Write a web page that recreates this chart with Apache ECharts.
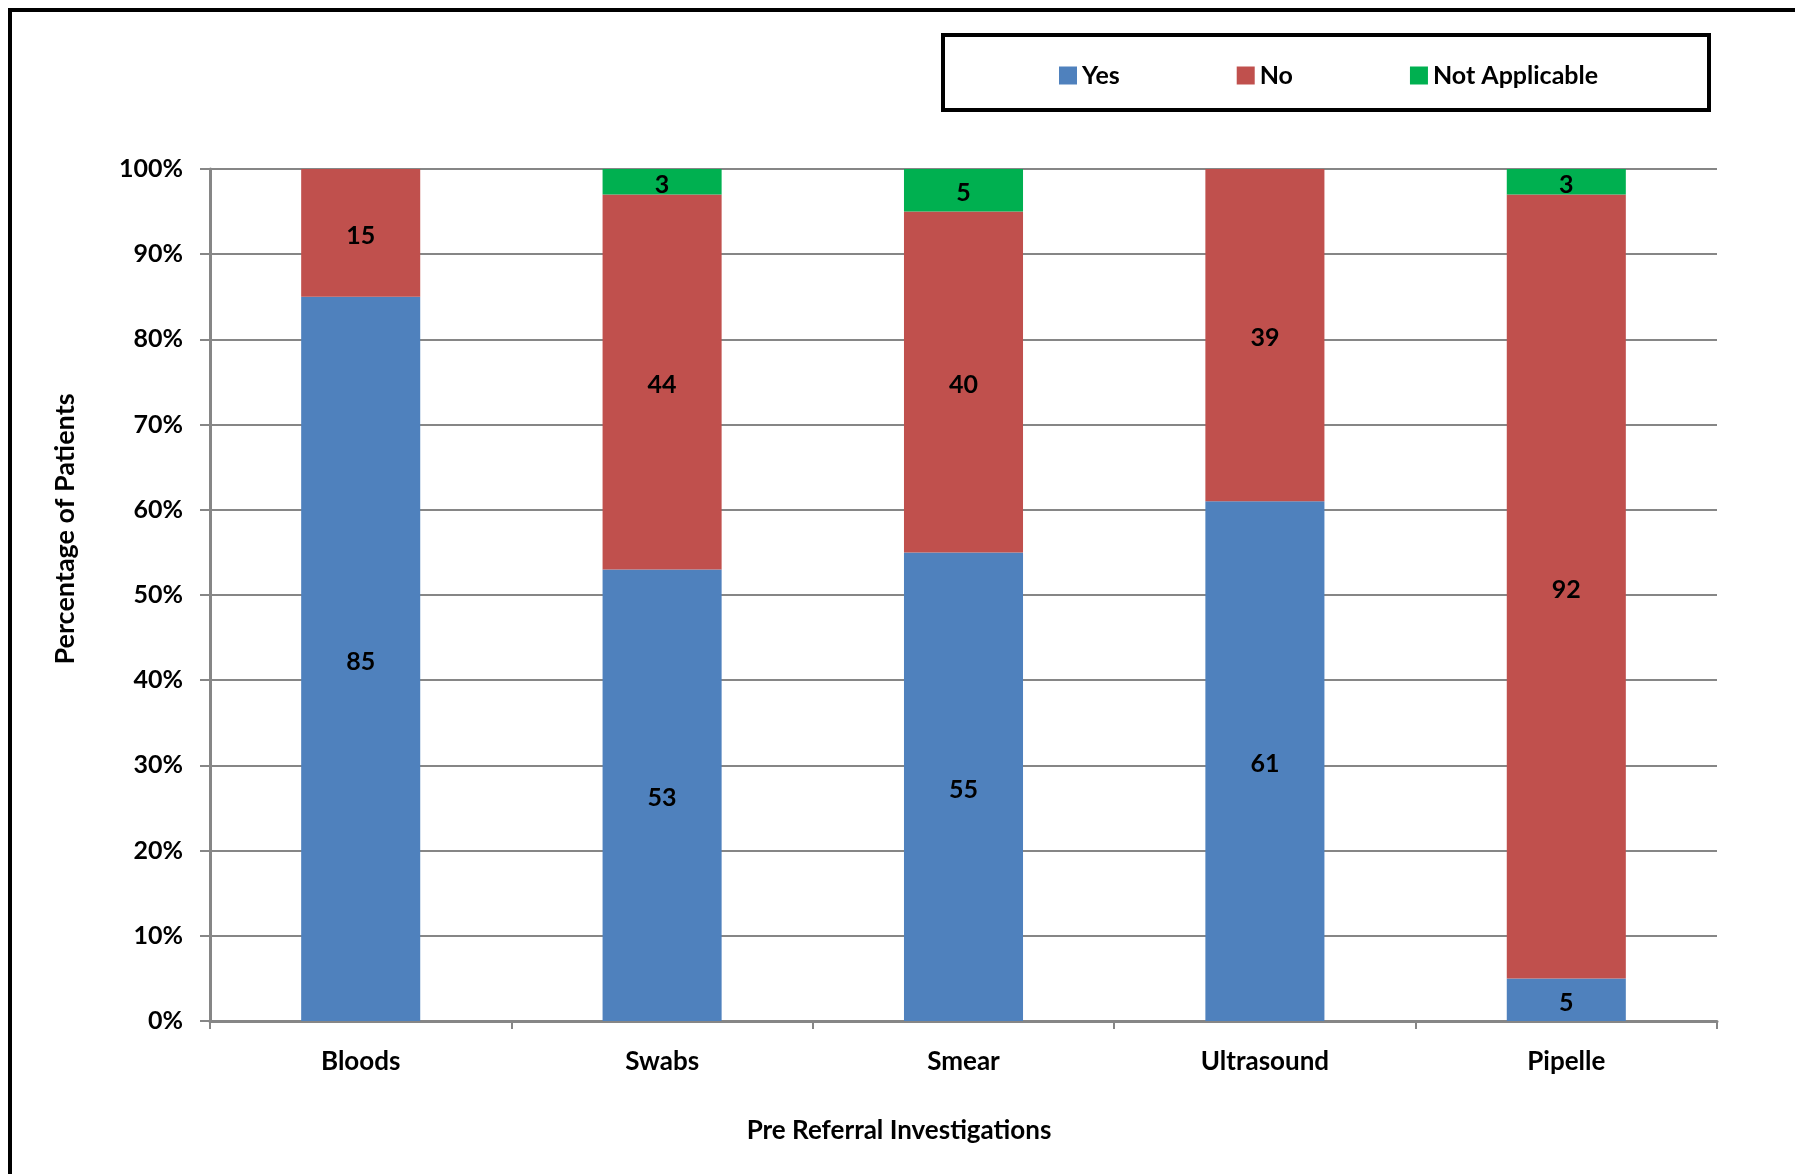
<!DOCTYPE html>
<html>
<head>
<meta charset="utf-8">
<script src="https://cdn.jsdelivr.net/npm/echarts@6/dist/echarts.min.js"></script>
<style>
html,body{margin:0;padding:0;background:#fff;}
#chart{width:1795px;height:1174px;}
</style>
</head>
<body>
<div id="chart"></div>
<script>
const categories = ['Bloods', 'Swabs', 'Smear', 'Ultrasound', 'Pipelle'];
const yesValues = [85, 53, 55, 61, 5];
const noValues = [15, 44, 40, 39, 92];
const naValues = [0, 3, 5, 0, 3];
const seriesNames = ['Yes', 'No', 'Not Applicable'];
const colors = ['#4F81BD', '#C0504D', '#00B050'];
const yTicks = { min: 0, max: 100, interval: 10 };
const xAxisTitle = 'Pre Referral Investigations';
const yAxisTitle = 'Percentage of Patients';

const FONT = 'Lato';
const chart = echarts.init(document.getElementById('chart'));
const labelCfg = {
  show: true,
  position: 'inside',
  offset: [0, 3],
  color: '#000',
  fontFamily: FONT,
  fontWeight: 'bold',
  fontSize: 25,
  formatter: p => (p.value ? String(p.value) : '')
};
const mk = (name, data, color) => ({
  name, type: 'bar', stack: 'total', data,
  barWidth: '39.5%',
  itemStyle: { color },
  label: labelCfg,
  emphasis: { disabled: true }
});
chart.setOption({
  animation: false,
  backgroundColor: '#fff',
  textStyle: { fontFamily: FONT },
  color: colors,
  grid: { left: 210, right: 78, top: 169, bottom: 153 },
  legend: {
    data: seriesNames,
    left: 1059, top: 63,
    icon: 'rect', itemWidth: 18, itemHeight: 18, itemGap: 117,
    padding: 0,
    textStyle: { fontFamily: FONT, fontWeight: 'bold', fontSize: 25, color: '#000' }
  },
  xAxis: {
    type: 'category',
    data: categories,
    axisLine: { lineStyle: { color: '#868686', width: 3 } },
    axisTick: { show: true, alignWithLabel: false, length: 8, lineStyle: { color: '#868686', width: 2 } },
    axisLabel: { margin: 28, fontFamily: FONT, fontWeight: 'bold', fontSize: 26, color: '#000' }
  },
  yAxis: {
    type: 'value',
    min: yTicks.min, max: yTicks.max, interval: yTicks.interval,
    axisLine: { show: true, lineStyle: { color: '#868686', width: 3 } },
    axisTick: { show: true, length: 10, lineStyle: { color: '#868686', width: 2 } },
    splitLine: { show: true, lineStyle: { color: '#868686', width: 2 } },
    axisLabel: { margin: 27, formatter: '{value}%', fontFamily: FONT, fontWeight: 'bold', fontSize: 25, color: '#000' }
  },
  graphic: [
    { type: 'rect', shape: { x: 10, y: 10, width: 1900, height: 1300 }, style: { fill: 'none', stroke: '#000', lineWidth: 4 }, silent: true },
    { type: 'rect', shape: { x: 943, y: 35, width: 766, height: 75 }, style: { fill: 'none', stroke: '#000', lineWidth: 4 }, silent: true },
    { type: 'text', x: 899, y: 1131, silent: true,
      style: { text: xAxisTitle, fontFamily: FONT, fontWeight: 'bold', fontSize: 26, fill: '#000', textAlign: 'center', textVerticalAlign: 'middle' } },
    { type: 'text', x: 65, y: 529, rotation: Math.PI / 2, silent: true,
      style: { text: yAxisTitle, fontFamily: FONT, fontWeight: 'bold', fontSize: 27, fill: '#000', textAlign: 'center', textVerticalAlign: 'middle' } }
  ],
  series: [
    mk(seriesNames[0], yesValues, colors[0]),
    mk(seriesNames[1], noValues, colors[1]),
    mk(seriesNames[2], naValues, colors[2])
  ]
});
</script>
</body>
</html>
